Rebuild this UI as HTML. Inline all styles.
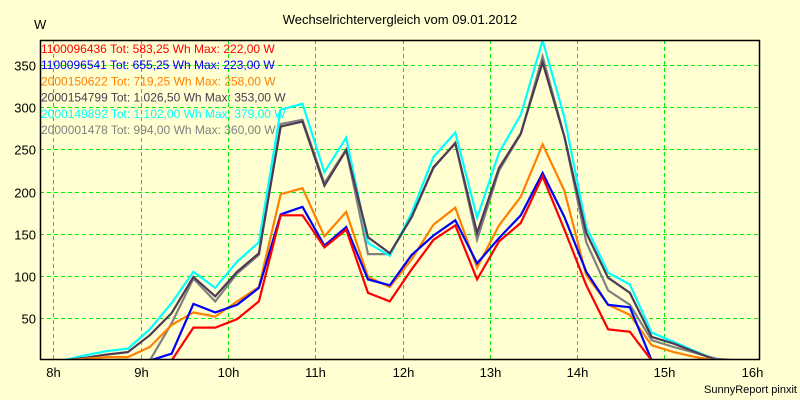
<!DOCTYPE html>
<html><head><meta charset="utf-8"><style>
html,body{margin:0;padding:0;background:#ffffd2;}
svg{display:block;font-family:"Liberation Sans",Arial,sans-serif;}
</style></head><body>
<svg id="chart" width="800" height="400" xmlns="http://www.w3.org/2000/svg">
<rect x="0" y="0" width="800" height="400" fill="#ffffd2"/>
<text x="400" y="24" text-anchor="middle" font-size="13" fill="#000">Wechselrichtervergleich vom 09.01.2012</text>
<text x="34" y="29" font-size="13" fill="#000">W</text>
<g id="grid"></g>
<g id="series"></g>
<g id="axes"></g>
<g id="legend"></g>
<text x="797" y="393" text-anchor="end" font-size="11" fill="#000">SunnyReport pinxit</text>
</svg>
<script>
const yTicks = [50,100,150,200,250,300,350];
const xTickHours = [8,9,10,11,12,13,14,15,16];
const t0 = 7.855, step = 0.25;
const redVals    = [0,0,0,0,0,0,0,39,39,49,70,172,172,134,155,80,70,108,143,160,96,141,163,218,155,89,37,34,0];
const blueVals   = [0,0,0,0,0,0,8,67,57,66,86,173,182,136,158,96,89,125,148,166,115,145,172,222,170,105,66,63,0,0,0];
const orangeVals = [0,0,2,4,4,16,42,57,52,70,87,197,204,147,176,99,87,120,161,181,110,160,194,256,201,101,66,54,18,10,4,0,0,0];
const darkVals   = [0,0,3,7,10,30,56,99,76,105,127,277,283,207,249,146,127,170,229,257,151,228,269,353,265,151,98,80,28,20,10,0,0,0];
const cyanVals   = [0,0,6,11,14,37,68,105,86,117,140,297,304,223,264,139,124,175,241,270,169,246,291,379,288,158,104,90,33,22,11,0,0,0];
const grayVals   = [0,0,0,0,0,0,44,97,70,103,125,280,285,210,250,126,126,170,228,258,143,225,268,360,265,140,83,66,24,16,9,2,0,0];
const seriesNames = ["1100096436 Tot: 583,25 Wh Max: 222,00 W","1100096541 Tot: 655,25 Wh Max: 223,00 W","2000150622 Tot: 719,25 Wh Max: 258,00 W","2000154799 Tot: 1.026,50 Wh Max: 353,00 W","2000149892 Tot: 1.102,00 Wh Max: 379,00 W","2000001478 Tot: 994,00 Wh Max: 360,00 W"];
const seriesColors = ["#ff0000","#0000ff","#ff8000","#4e3a52","#00ffff","#808080"];
const seriesIds = ["series-1100096436","series-1100096541","series-2000150622","series-2000154799","series-2000149892","series-2000001478"];
const seriesData = [redVals, blueVals, orangeVals, darkVals, cyanVals, grayVals];
const drawOrder = [5,4,3,2,1,0];

const L=40,R=759,T=40,B=359;
const xOf = h => 53.3 + (h-8)*87.3;
const yOf = v => 360.5 - v*0.8444;
const NS="http://www.w3.org/2000/svg";
function mk(tag, attrs, parent){const e=document.createElementNS(NS,tag);for(const k in attrs)e.setAttribute(k,attrs[k]);parent.appendChild(e);return e;}
const grid=document.getElementById('grid'), axes=document.getElementById('axes'), sg=document.getElementById('series'), lg=document.getElementById('legend');

yTicks.forEach(v=>{
  const y=Math.round(yOf(v))+0.5;
  const gl=mk('line',{x1:L,x2:R,y1:y,y2:y,stroke:'#00ee00','stroke-dasharray':'4,3','stroke-width':1},grid);
  
  
  const tl=mk('text',{x:36,y:y+5,'text-anchor':'end','font-size':13,fill:'#000'},axes);
  tl.textContent=v;
  
  
});
xTickHours.forEach(h=>{
  const x=Math.round(xOf(h))+0.5;
  if(h<16){
    const gl=mk('line',{x1:x,x2:x,y1:T,y2:B,stroke:'#00ee00','stroke-dasharray':'4,3','stroke-width':1},grid);
    
    
  }
  const tl=mk('text',{x:x,y:377,'text-anchor':'middle','font-size':13,fill:'#000'},axes);
  tl.textContent=h+'h';
  
  
});
const frame=mk('rect',{x:L+0.5,y:T+0.5,width:R-L,height:B-T,fill:'none',stroke:'#000','stroke-width':1.5},axes);



drawOrder.forEach(i=>{
  const vals=seriesData[i];
  const pts=vals.map((v,k)=>Math.max(L,Math.min(R,xOf(t0+k*step))).toFixed(1)+','+yOf(v).toFixed(1)).join(' ');
  const pl=mk('polyline',{points:pts,fill:'none',stroke:seriesColors[i],'stroke-width':2.2,'stroke-linejoin':'miter'},sg);
  
  
});
const cp=mk('clipPath',{id:'pc'},document.getElementById('chart'));
mk('rect',{x:L+1,y:T+1,width:R-L-1,height:B-T-1},cp);
sg.setAttribute('clip-path','url(#pc)');

seriesNames.forEach((n,i)=>{
  const tx=mk('text',{x:41,y:53+i*16.2,'font-size':12,fill:seriesColors[i]},lg);
  tx.textContent=n;
  
  
});
</script>
</body></html>
